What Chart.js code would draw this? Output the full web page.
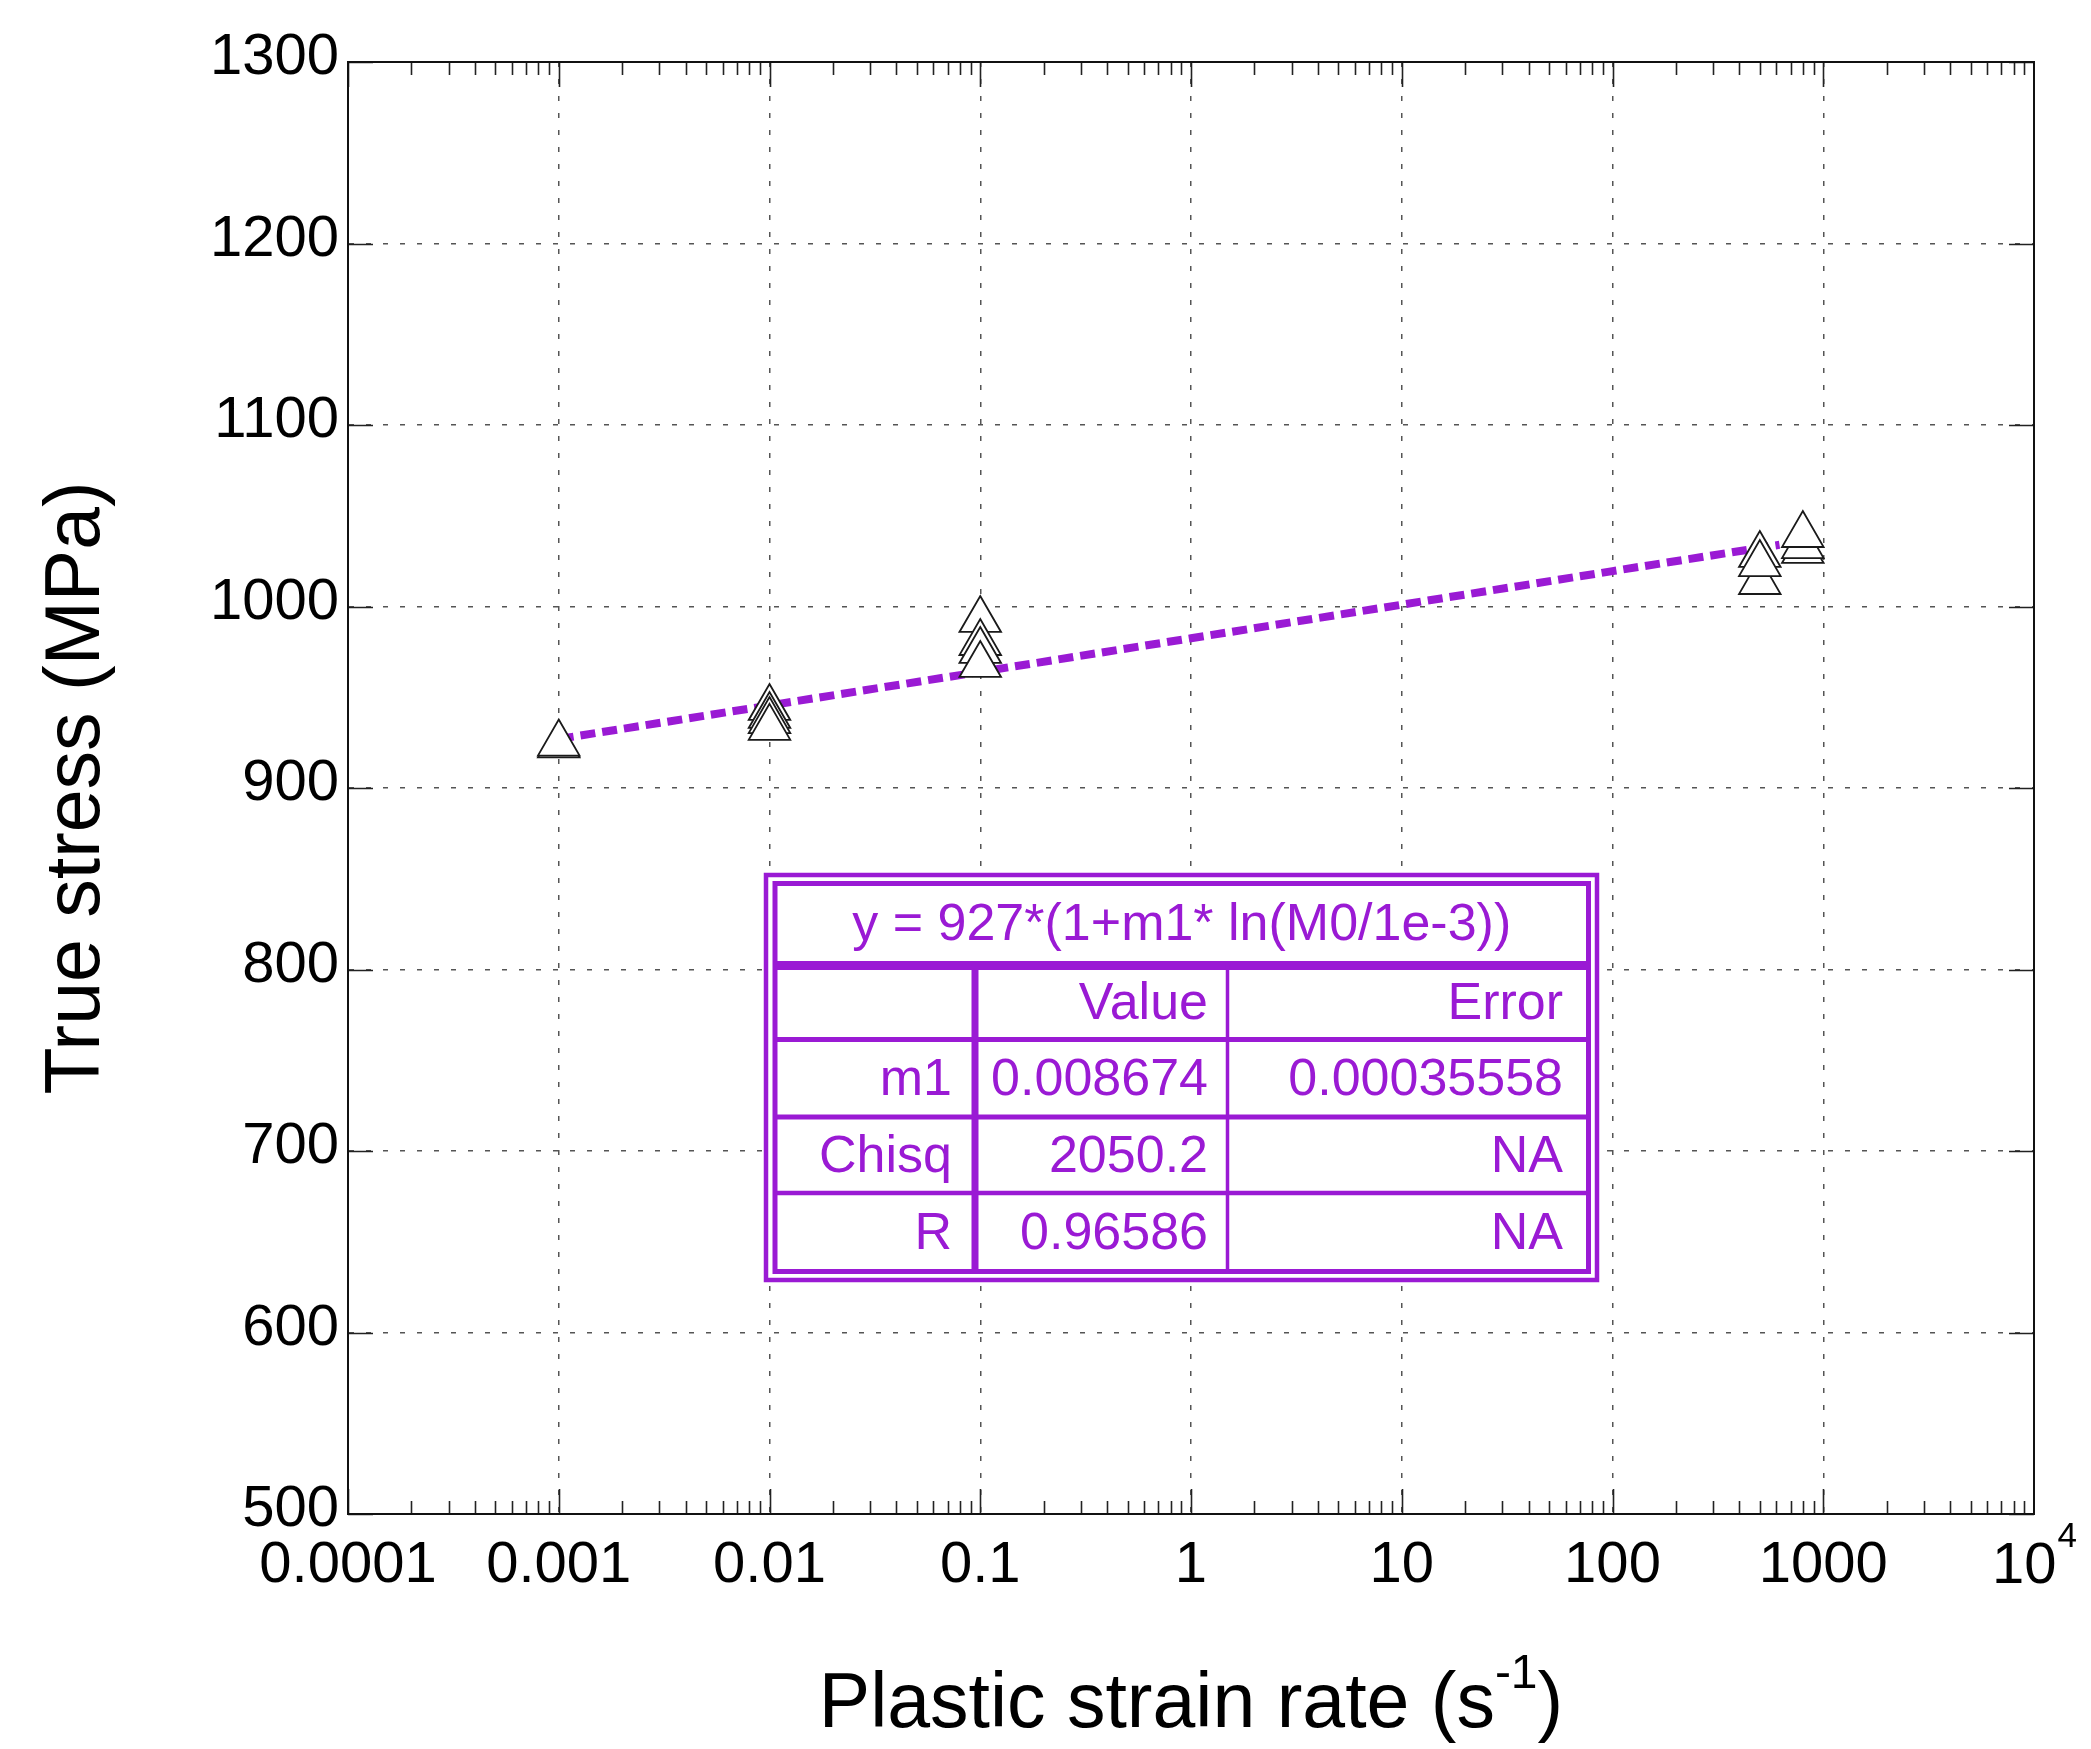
<!DOCTYPE html>
<html>
<head>
<meta charset="utf-8">
<title>True stress vs plastic strain rate</title>
<script src="https://cdn.jsdelivr.net/npm/chart.js@4.4.1/dist/chart.umd.min.js"></script>
<style>
  html, body { margin: 0; padding: 0; background: #ffffff; }
  #wrap { width: 2091px; height: 1749px; position: relative; }
  canvas { display: block; }
</style>
</head>
<body>
<div id="wrap"><canvas id="chart" width="2091" height="1749"></canvas></div>
<script>
// Axis ranges and tick labels
const rateMin = 1e-4;
const rateMax = 1e4;
const rateTicks = [1e-4, 1e-3, 1e-2, 1e-1, 1, 10, 100, 1000, 1e4];
const rateTickLabels = ['0.0001', '0.001', '0.01', '0.1', '1', '10', '100', '1000', ''];
const stressMin = 500;
const stressMax = 1300;
const stressStep = 100;

// Measured flow stress at each plastic strain rate
const strainRate = [0.001, 0.001,
                    0.01, 0.01, 0.01, 0.01,
                    0.1, 0.1, 0.1, 0.1,
                    500, 500, 500,
                    800, 800, 800];
const trueStress = [923.5, 924.5,
                    944.1, 939.7, 936.9, 933.1,
                    992.6, 979.9, 975.5, 967.8,
                    1013.5, 1028.4, 1023.4,
                    1030.6, 1033.3, 1039.4];

// Fitted curve y = 927*(1 + m1*ln(rate/1e-3))
const fitRate = [0.001, 0.01, 0.1, 1, 10, 100, 620];
const fitStress = [927, 945.5, 964, 982.5, 1001, 1019.5, 1034];

// Fit report table
const fitEquation = 'y = 927*(1+m1* ln(M0/1e-3))';
const fitHeader = ['', 'Value', 'Error'];
const fitRows = [
  ['m1', '0.008674', '0.00035558'],
  ['Chisq', '2050.2', 'NA'],
  ['R', '0.96586', 'NA']
];

const FONT = '"Liberation Sans", Arial, Helvetica, sans-serif';
const PURPLE = '#9a1ad4';

// Inward tick marks on all four sides plus the closed frame
const frameTicks = {
  id: 'frameTicks',
  beforeDatasetsDraw(chart) {
    const { ctx, chartArea: a, scales: { x, y } } = chart;
    ctx.save();
    ctx.strokeStyle = '#222';
    ctx.lineWidth = 1.6;
    ctx.setLineDash([]);
    ctx.beginPath();
    for (let e = -4; e < 4; e++) {
      for (let m = 1; m <= 9; m++) {
        const v = m * Math.pow(10, e);
        const px = Math.round(x.getPixelForValue(v)) + 0.5;
        const len = m === 1 ? 25 : 13;
        ctx.moveTo(px, a.bottom); ctx.lineTo(px, a.bottom - len);
        ctx.moveTo(px, a.top); ctx.lineTo(px, a.top + len);
      }
    }
    y.ticks.forEach(t => {
      const py = Math.round(y.getPixelForValue(t.value)) + 0.5;
      ctx.moveTo(a.left, py); ctx.lineTo(a.left + 25, py);
      ctx.moveTo(a.right, py); ctx.lineTo(a.right - 25, py);
    });
    ctx.stroke();
    ctx.lineWidth = 2;
    ctx.strokeStyle = '#111';
    ctx.strokeRect(a.left, a.top, a.right - a.left, a.bottom - a.top);
    ctx.restore();
  }
};

// Axis titles, the 10^4 label and the fit report box
const annotations = {
  id: 'annotations',
  afterDraw(chart) {
    const { ctx, chartArea: a, scales: { x } } = chart;
    ctx.save();
    ctx.fillStyle = '#000';

    // 10^4 tick label
    const px4 = x.getPixelForValue(rateMax);
    ctx.font = '58px ' + FONT;
    const wBase = ctx.measureText('10').width;
    ctx.font = '35px ' + FONT;
    const wExp = ctx.measureText('4').width;
    const start4 = px4 - (wBase + wExp) / 2;
    ctx.textBaseline = 'alphabetic';
    ctx.textAlign = 'left';
    ctx.font = '58px ' + FONT;
    ctx.fillText('10', start4, 1583);
    ctx.font = '35px ' + FONT;
    ctx.fillText('4', start4 + wBase + 1, 1547);

    // x-axis title with superscript
    const main = 'Plastic strain rate (s';
    const sup = '-1';
    const tail = ')';
    ctx.font = '77px ' + FONT;
    const wMain = ctx.measureText(main).width;
    const wTail = ctx.measureText(tail).width;
    ctx.font = '48px ' + FONT;
    const wSup = ctx.measureText(sup).width;
    const total = wMain + wSup + wTail;
    let tx = (a.left + a.right) / 2 - total / 2;
    ctx.font = '77px ' + FONT;
    ctx.fillText(main, tx, 1727);
    ctx.font = '48px ' + FONT;
    ctx.fillText(sup, tx + wMain, 1688);
    ctx.font = '77px ' + FONT;
    ctx.fillText(tail, tx + wMain + wSup, 1727);

    // y-axis title
    ctx.save();
    ctx.translate(99, (a.top + a.bottom) / 2);
    ctx.rotate(-Math.PI / 2);
    ctx.textAlign = 'center';
    ctx.font = '77px ' + FONT;
    ctx.fillText('True stress (MPa)', 0, 0);
    ctx.restore();

    // Fit report box
    const outer = { l: 766, t: 875, r: 1597, b: 1280 };
    const inner = { l: 775, t: 883.5, r: 1588.5, b: 1271.5 };
    ctx.fillStyle = '#fff';
    ctx.fillRect(outer.l - 2, outer.t - 2, outer.r - outer.l + 4, outer.b - outer.t + 4);
    ctx.strokeStyle = PURPLE;
    ctx.lineWidth = 4.5;
    ctx.strokeRect(outer.l, outer.t, outer.r - outer.l, outer.b - outer.t);
    ctx.lineWidth = 5;
    ctx.strokeRect(inner.l, inner.t, inner.r - inner.l, inner.b - inner.t);

    const hLines = [[965.5, 9], [1039.5, 5], [1117, 5], [1193, 4.5]];
    hLines.forEach(([yy, w]) => {
      ctx.lineWidth = w;
      ctx.beginPath();
      ctx.moveTo(inner.l, yy); ctx.lineTo(inner.r, yy);
      ctx.stroke();
    });
    const vLines = [[975, 7], [1227.5, 3.5]];
    vLines.forEach(([xx, w]) => {
      ctx.lineWidth = w;
      ctx.beginPath();
      ctx.moveTo(xx, 965.5); ctx.lineTo(xx, inner.b);
      ctx.stroke();
    });

    ctx.fillStyle = PURPLE;
    ctx.font = '52px ' + FONT;
    ctx.textAlign = 'center';
    ctx.fillText(fitEquation, (inner.l + inner.r) / 2, 940);

    const colRight = [952, 1208, 1563];
    const rowBase = [1019, 1094.5, 1171.5, 1248.5];
    ctx.textAlign = 'right';
    [fitHeader].concat(fitRows).forEach((row, ri) => {
      row.forEach((cell, ci) => {
        if (cell) ctx.fillText(cell, colRight[ci], rowBase[ri]);
      });
    });
    ctx.restore();
  }
};

const ctx = document.getElementById('chart').getContext('2d');
new Chart(ctx, {
  type: 'scatter',
  data: {
    datasets: [
      {
        label: 'True stress',
        data: strainRate.map((r, i) => ({ x: r, y: trueStress[i] })),
        pointStyle: 'triangle',
        pointRadius: 24,
        pointHoverRadius: 24,
        pointBackgroundColor: '#ffffff',
        pointBorderColor: '#1a1a1a',
        pointBorderWidth: 1.8,
        showLine: false
      },
      {
        label: 'Fit',
        data: fitRate.map((r, i) => ({ x: r, y: fitStress[i] })),
        showLine: true,
        borderColor: PURPLE,
        borderWidth: 8,
        borderDash: [15, 7],
        pointRadius: 0,
        tension: 0,
        fill: false
      }
    ]
  },
  options: {
    responsive: false,
    devicePixelRatio: 1,
    animation: false,
    layout: { padding: { left: 0, top: 62, right: 57, bottom: 0 } },
    plugins: {
      legend: { display: false },
      tooltip: { enabled: false },
      title: { display: false }
    },
    scales: {
      x: {
        type: 'logarithmic',
        position: 'bottom',
        min: rateMin,
        max: rateMax,
        afterBuildTicks: (scale) => { scale.ticks = rateTicks.map(v => ({ value: v })); },
        afterFit: (scale) => { scale.height = 235; },
        ticks: {
          autoSkip: false,
          maxRotation: 0,
          minRotation: 0,
          padding: 17,
          color: '#000',
          font: { family: FONT, size: 58 },
          callback: (value, index) => rateTickLabels[index]
        },
        grid: { color: '#555', lineWidth: 1.5, drawTicks: false },
        border: { display: true, color: '#111', width: 2, dash: [5, 12] }
      },
      y: {
        type: 'linear',
        position: 'left',
        min: stressMin,
        max: stressMax,
        afterFit: (scale) => { scale.width = 348; },
        ticks: {
          stepSize: stressStep,
          padding: 9,
          labelOffset: -4,
          color: '#000',
          font: { family: FONT, size: 58 },
          callback: (value) => String(value)
        },
        grid: { color: '#555', lineWidth: 1.5, drawTicks: false },
        border: { display: true, color: '#111', width: 2, dash: [5, 12] }
      }
    }
  },
  plugins: [frameTicks, annotations]
});
</script>
</body>
</html>
